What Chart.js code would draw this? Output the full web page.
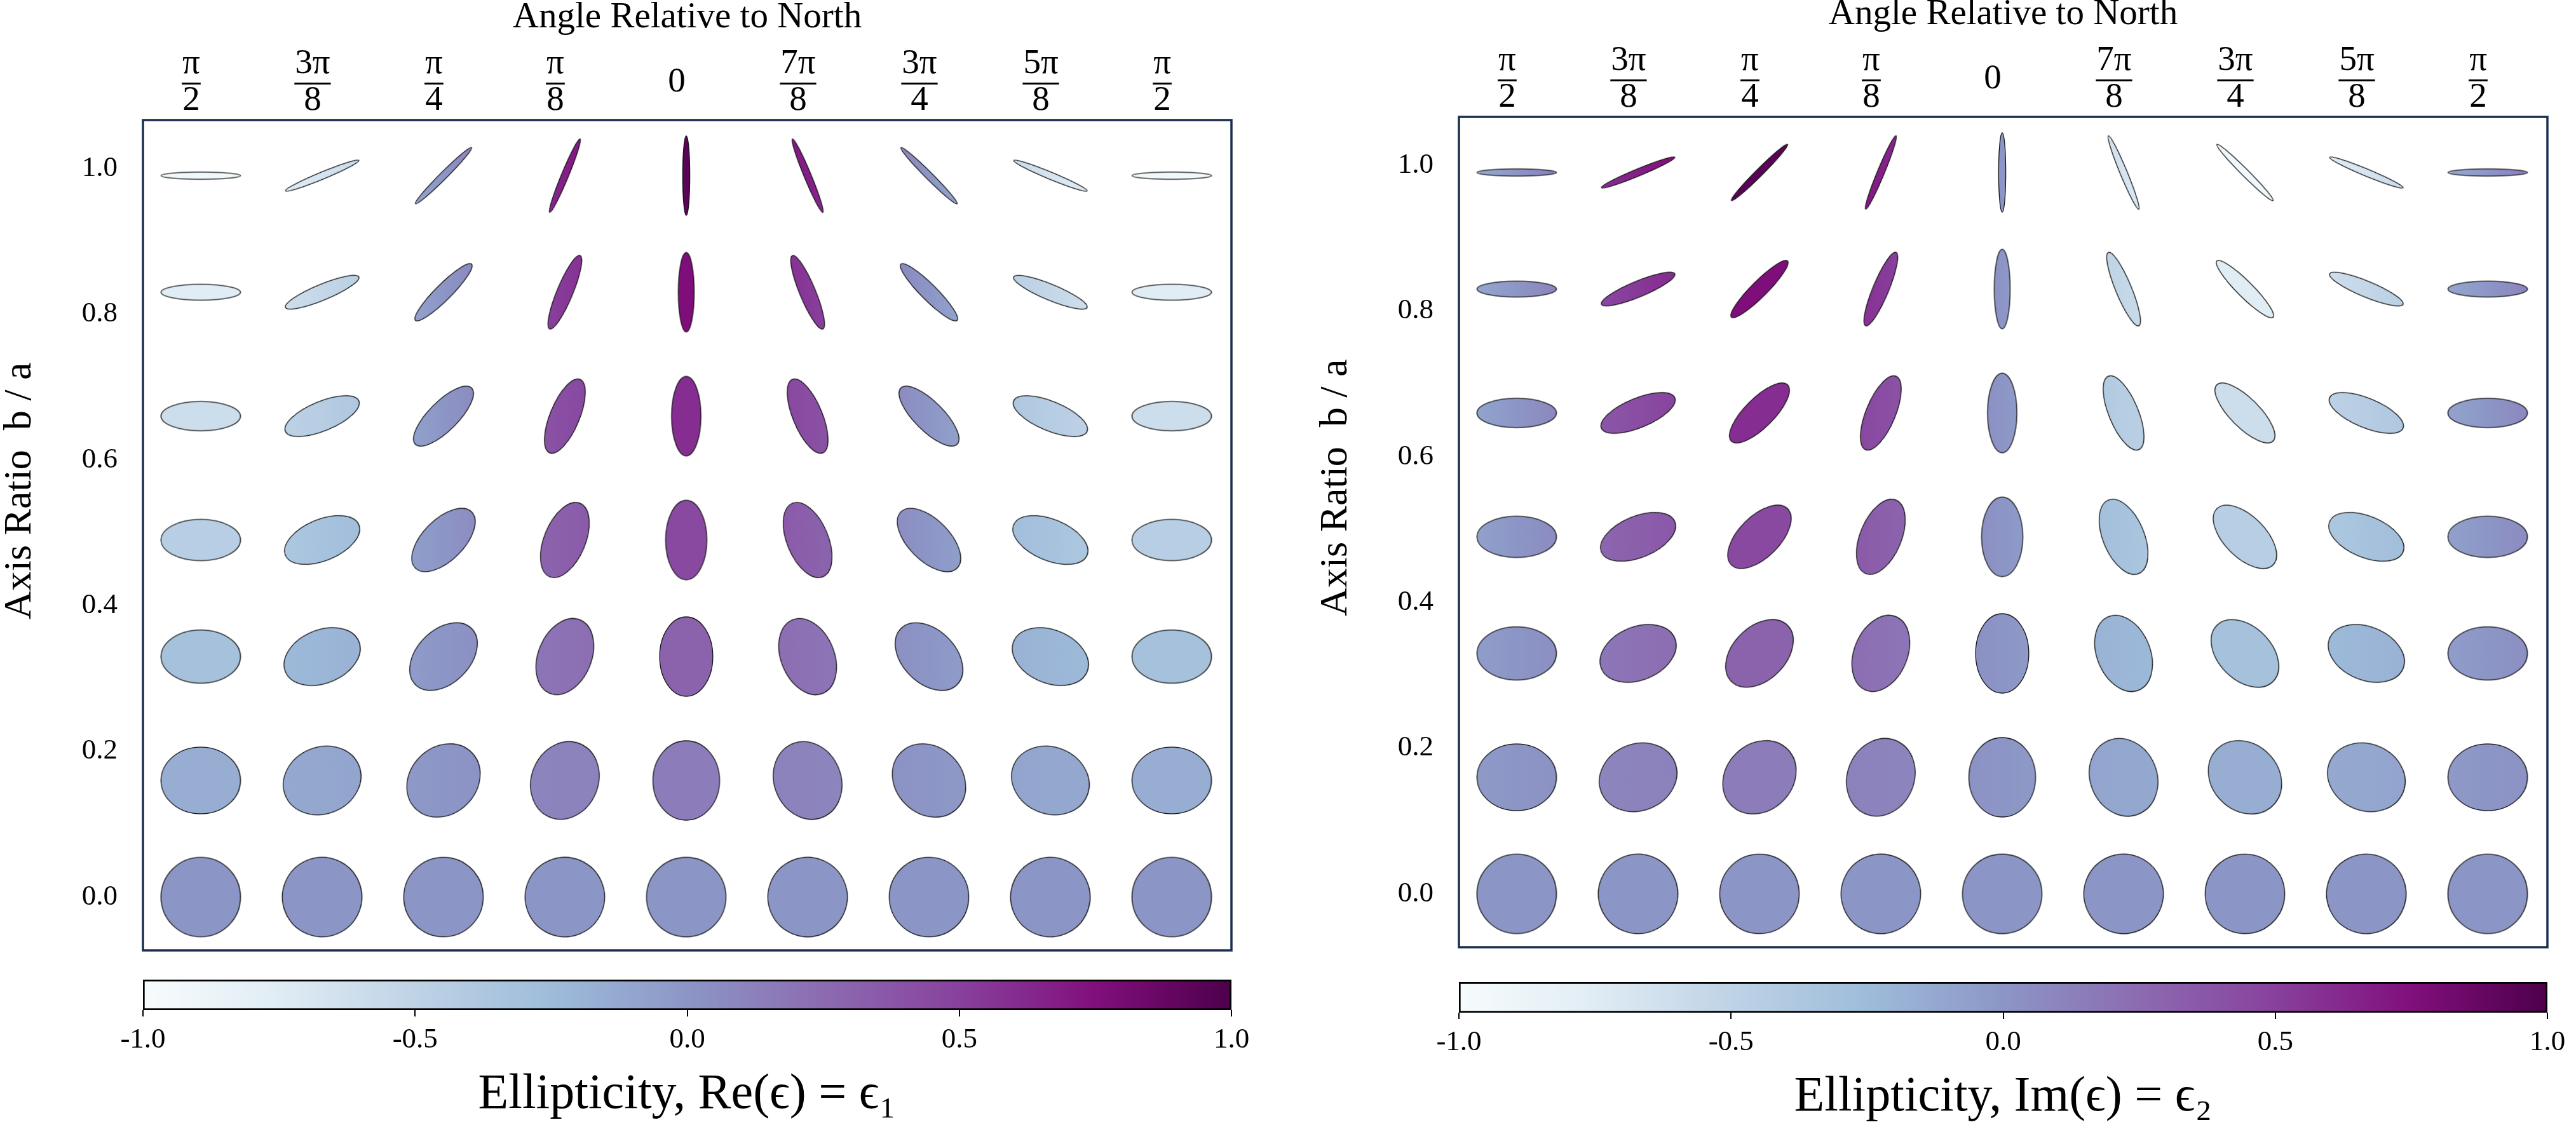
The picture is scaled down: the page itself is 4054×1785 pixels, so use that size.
<!DOCTYPE html>
<html>
<head>
<meta charset="utf-8">
<script src="https://cdn.jsdelivr.net/npm/chart.js@4.4.1/dist/chart.umd.min.js"></script>
<style>
  html, body { margin: 0; padding: 0; background: #fff; overflow: hidden; }
  body { width: 4054px; height: 1785px; position: relative; }
  canvas { position: absolute; }
</style>
</head>
<body>
<canvas id="panelRe" width="1990" height="1520" style="left:0;top:0;width:1990px;height:1520px"></canvas>
<canvas id="barRe" width="1990" height="285" style="left:0;top:1500px;width:1990px;height:285px"></canvas>
<canvas id="panelIm" width="1990" height="1520" style="left:2071px;top:-5px;width:1990px;height:1520px"></canvas>
<canvas id="barIm" width="1990" height="285" style="left:2071px;top:1504px;width:1990px;height:285px"></canvas>
<script>
// columns: angle relative to north (tick labels as fractions)
const angleNumerators = ['π', '3π', 'π', 'π', '0', '7π', '3π', '5π', 'π'];
const angleDenominators = ['2', '8', '4', '8', '', '8', '4', '8', '2'];
const orientationDeg = [90, 67.5, 45, 22.5, 0, 157.5, 135, 112.5, 90];

// rows, bottom to top
const rowPositions = [0.0, 0.16, 0.33, 0.49, 0.66, 0.83, 0.99];
const axisRatios = [1.0, 0.84, 0.67, 0.52, 0.37, 0.2, 0.09];
const yTickValues = [0.0, 0.2, 0.4, 0.6, 0.8, 1.0];
const colorbarTicks = [-1.0, -0.5, 0.0, 0.5, 1.0];

// colour value of every ellipse, one row per axis ratio
const ellipticityRe = [
  [0, 0, 0, 0, 0, 0, 0, 0, 0],
  [-0.15, -0.11, 0, 0.11, 0.15, 0.11, 0, -0.11, -0.15],
  [-0.30, -0.21, 0, 0.21, 0.30, 0.21, 0, -0.21, -0.30],
  [-0.45, -0.32, 0, 0.32, 0.45, 0.32, 0, -0.32, -0.45],
  [-0.60, -0.43, 0, 0.43, 0.60, 0.43, 0, -0.43, -0.60],
  [-0.76, -0.54, 0, 0.54, 0.76, 0.54, 0, -0.54, -0.76],
  [-0.94, -0.67, 0, 0.67, 0.94, 0.67, 0, -0.67, -0.94]
];
const ellipticityIm = [
  [0, 0, 0, 0, 0, 0, 0, 0, 0],
  [0, 0.11, 0.15, 0.11, 0, -0.11, -0.15, -0.11, 0],
  [0, 0.21, 0.30, 0.21, 0, -0.21, -0.30, -0.21, 0],
  [0, 0.32, 0.45, 0.32, 0, -0.32, -0.45, -0.32, 0],
  [0, 0.43, 0.60, 0.43, 0, -0.43, -0.60, -0.43, 0],
  [0, 0.54, 0.76, 0.54, 0, -0.54, -0.76, -0.54, 0],
  [0, 0.67, 0.94, 0.67, 0, -0.67, -0.94, -0.67, 0]
];

const FONT = 'Liberation Serif';
const bupu = ['#f7fcfd', '#e0ecf4', '#bfd3e6', '#9ebcda', '#8c96c6', '#8c6bb1', '#88419d', '#810f7c', '#4d004b'];
const bupuRgb = bupu.map(h => [1, 3, 5].map(i => parseInt(h.slice(i, i + 2), 16)));

function colorFor(v) {
  const t = Math.min(1, Math.max(0, (v + 1) / 2)) * (bupuRgb.length - 1);
  const i = Math.min(Math.floor(t), bupuRgb.length - 2);
  const f = t - i;
  const c = bupuRgb[i].map((a, k) => Math.round(a + (bupuRgb[i + 1][k] - a) * f));
  return 'rgb(' + c.join(',') + ')';
}

// one small canvas per ellipse, used as the point style
const MAJOR = 125;
function ellipseSprite(value, shade, ratio, thetaDeg) {
  const a = MAJOR / 2, b = Math.max(MAJOR * ratio / 2, 2);
  const cv = document.createElement('canvas');
  cv.width = Math.ceil(2 * b + 6);
  cv.height = Math.ceil(2 * a + 6);
  const g = cv.getContext('2d');
  const cx = cv.width / 2, cy = cv.height / 2;
  const th = thetaDeg * Math.PI / 180;
  const ux = Math.cos(th), uy = -Math.sin(th);
  const grad = g.createLinearGradient(cx - ux * a, cy - uy * a, cx + ux * a, cy + uy * a);
  for (let s = 0; s <= 4; s++) {
    grad.addColorStop(s / 4, colorFor(value + shade * (s / 2 - 1)));
  }
  g.beginPath();
  g.ellipse(cx, cy, b, a, 0, 0, Math.PI * 2);
  g.fillStyle = grad;
  g.fill();
  g.lineWidth = 1.3;
  g.strokeStyle = '#111';
  g.stroke();
  return cv;
}

const framePlugin = {
  id: 'frame',
  afterDraw(chart) {
    const { ctx, chartArea: a } = chart;
    ctx.save();
    ctx.strokeStyle = '#1b2e4f';
    ctx.lineWidth = 3.5;
    ctx.strokeRect(a.left, a.top, a.right - a.left, a.bottom - a.top);
    ctx.restore();
  }
};

const fractionBars = {
  id: 'fractionBars',
  afterDraw(chart) {
    const scale = chart.scales.x;
    const ctx = chart.ctx;
    ctx.save();
    ctx.fillStyle = '#000';
    scale.getLabelItems().forEach(item => {
      if (!Array.isArray(item.label) || item.label.length < 2) return;
      ctx.font = item.font.string;
      const w = Math.max(...item.label.map(s => ctx.measureText(s).width)) + 2;
      const [tx, ty] = item.options.translation;
      const y = ty + item.textOffset + item.font.lineHeight / 2 + 2;
      ctx.fillRect(tx - w / 2, y - 1.5, w, 3);
    });
    ctx.restore();
  }
};

function panelChart(id, rows) {
  const pts = [], sprites = [], rots = [];
  rows.forEach((vals, r) => {
    vals.forEach((v, c) => {
      const prev = vals[c === 0 ? 7 : c - 1];
      const next = vals[c === 8 ? 1 : c + 1];
      pts.push({ x: c, y: rowPositions[r] });
      sprites.push(ellipseSprite(v, 0.1 * (next - prev), axisRatios[r], orientationDeg[c]));
      rots.push(orientationDeg[c]);
    });
  });

  return new Chart(document.getElementById(id), {
    type: 'scatter',
    data: {
      datasets: [{
        data: pts,
        pointStyle: ctx => sprites[ctx.dataIndex],
        pointRotation: ctx => rots[ctx.dataIndex],
        pointRadius: 10,
        showLine: false
      }]
    },
    options: {
      responsive: false,
      animation: false,
      events: [],
      layout: { padding: { left: 0, top: 0, right: 52, bottom: 24 } },
      plugins: { legend: { display: false }, tooltip: { enabled: false } },
      scales: {
        x: {
          type: 'linear',
          position: 'top',
          min: -0.476,
          max: 8.492,
          afterBuildTicks: s => { s.ticks = angleNumerators.map((_, i) => ({ value: i })); },
          afterFit: s => { s.height = 189; s.paddingLeft = 0; s.paddingRight = 0; },
          grid: { display: false, drawTicks: false },
          border: { display: false },
          ticks: {
            autoSkip: false,
            maxRotation: 0,
            minRotation: 0,
            crossAlign: 'center',
            padding: 30,
            labelOffset: -15,
            color: '#000',
            font: { family: FONT, size: 55, lineHeight: 1.07 },
            callback: v => {
              const i = Math.round(v);
              return angleDenominators[i] ? [angleNumerators[i], angleDenominators[i]] : angleNumerators[i];
            }
          },
          title: {
            display: true,
            text: 'Angle Relative to North',
            color: '#000',
            font: { family: FONT, size: 57, lineHeight: 1 },
            padding: { top: 0, bottom: 0 }
          }
        },
        y: {
          type: 'linear',
          min: -0.0732,
          max: 1.0663,
          afterBuildTicks: s => { s.ticks = yTickValues.map(v => ({ value: v })); },
          afterFit: s => { s.width = 225; s.paddingTop = 0; s.paddingBottom = 0; },
          grid: { display: false, drawTicks: false },
          border: { display: false },
          ticks: {
            padding: 40,
            color: '#000',
            font: { family: FONT, size: 45 },
            callback: v => v.toFixed(1)
          },
          title: {
            display: true,
            text: '         Axis Ratio  b / a',
            color: '#000',
            font: { family: FONT, size: 62, lineHeight: 1 },
            padding: { top: 1, bottom: 0 }
          }
        }
      }
    },
    plugins: [framePlugin, fractionBars]
  });
}

function colorbarChart(id, label) {
  return new Chart(document.getElementById(id), {
    type: 'bar',
    data: {
      labels: [''],
      datasets: [{
        data: [[-1, 1]],
        backgroundColor: c => {
          const ca = c.chart.chartArea;
          if (!ca) return null;
          const g = c.chart.ctx.createLinearGradient(ca.left, 0, ca.right, 0);
          bupu.forEach((h, i) => g.addColorStop(i / (bupu.length - 1), h));
          return g;
        },
        borderColor: '#000',
        borderWidth: 3,
        borderSkipped: false,
        barPercentage: 1,
        categoryPercentage: 1
      }]
    },
    options: {
      indexAxis: 'y',
      responsive: false,
      animation: false,
      events: [],
      layout: { padding: { left: 225, right: 52, top: 42, bottom: 0 } },
      plugins: { legend: { display: false }, tooltip: { enabled: false } },
      scales: {
        y: { display: false },
        x: {
          type: 'linear',
          position: 'bottom',
          min: -1,
          max: 1,
          afterBuildTicks: s => { s.ticks = colorbarTicks.map(v => ({ value: v })); },
          afterFit: s => { s.height = 195; },
          grid: { drawOnChartArea: false, drawTicks: true, tickLength: 10, color: '#000', lineWidth: 2 },
          border: { display: false },
          ticks: {
            padding: 15,
            color: '#000',
            font: { family: FONT, size: 45, lineHeight: 1 },
            callback: v => v.toFixed(1)
          },
          title: {
            display: true,
            text: label,
            color: '#000',
            font: { family: FONT, size: 78, lineHeight: 1 },
            padding: { top: 0, bottom: 22 }
          }
        }
      }
    }
  });
}

panelChart('panelRe', ellipticityRe);
colorbarChart('barRe', 'Ellipticity, Re(ϵ) = ϵ₁');
panelChart('panelIm', ellipticityIm);
colorbarChart('barIm', 'Ellipticity, Im(ϵ) = ϵ₂');
</script>
</body>
</html>
